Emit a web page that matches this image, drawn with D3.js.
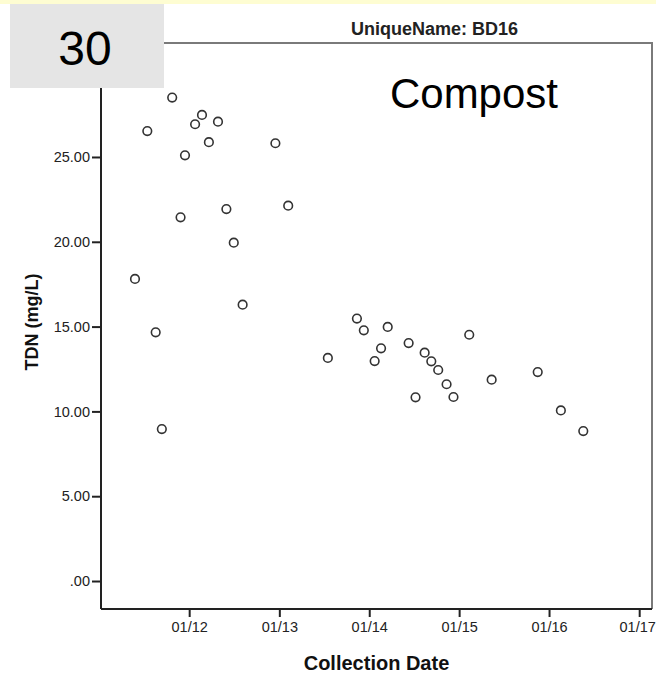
<!DOCTYPE html>
<html>
<head>
<meta charset="utf-8">
<script src="https://cdn.jsdelivr.net/npm/d3@7"></script>
<style>
  body { margin: 0; background: #fff; }
  svg text { font-family: "Liberation Sans", Arial, sans-serif; }
</style>
</head>
<body>
<svg id="chart" width="656" height="676"></svg>
<script>
// collection dates and TDN readings for BD16
const collectionDates = ["2011-10-24","2011-07-15","2012-02-22","2012-01-25","2012-04-27","2012-03-21","2012-12-16",
  "2011-12-15","2013-02-06","2011-11-27","2012-05-31","2012-06-30","2011-05-26","2012-08-05","2011-08-18","2011-09-12",
  "2013-11-12","2013-12-10","2014-03-17","2013-07-17","2014-02-18","2014-01-23","2014-06-10","2014-08-14","2014-09-10",
  "2014-10-08","2015-02-11","2014-11-11","2014-07-08","2014-12-09","2015-05-13","2015-11-16","2016-02-18","2016-05-19"];
const tdnValues = [28.50,26.53,27.48,26.93,27.08,25.87,25.81,25.10,22.13,21.44,21.93,19.95,17.81,16.29,14.66,8.96,
  15.47,14.78,14.98,13.15,13.72,12.97,14.03,13.46,12.95,12.44,14.52,11.60,10.83,10.85,11.87,12.32,10.06,8.84];

const yTicks = [0, 5, 10, 15, 20, 25];
const yTickLabels = [".00", "5.00", "10.00", "15.00", "20.00", "25.00"];
const xTickDates = ["2012-01-01","2013-01-01","2014-01-01","2015-01-01","2016-01-01","2017-01-01"];
const xTickLabels = ["01/12","01/13","01/14","01/15","01/16","01/17"];

const chartTitle = "UniqueName: BD16";
const slideNumber = "30";
const noteText = "Compost";

const parseDate = d3.timeParse("%Y-%m-%d");

const margin = {top: 43, right: 4, bottom: 67, left: 101};
const width = 656 - margin.left - margin.right;
const height = 676 - margin.top - margin.bottom;

const svg = d3.select("#chart");

// slide background strip
svg.append("rect")
    .attr("x", 0).attr("y", 0)
    .attr("width", 656).attr("height", 4)
    .attr("fill", "#fefdd2");

let g = svg.append("g")
    .attr("transform", "translate(" + margin.left + "," + margin.top + ")");

var xScale = d3.scaleTime()
    .domain([new Date(2011, 0, 8), new Date(2017, 1, 22)])
    .range([0, width]);

var yScale = d3.scaleLinear()
    .domain([-1.65, 31.72])
    .range([height, 0]);

// frame (top and right are grey)
g.append("path")
    .attr("d", "M0,0H" + width + "V" + height)
    .attr("fill", "none")
    .attr("stroke", "#7a7a7a")
    .attr("stroke-width", 2);

let xAxis = g.append("g")
    .attr("transform", "translate(0," + height + ")")
    .call(d3.axisBottom(xScale)
        .tickValues(xTickDates.map(parseDate))
        .tickFormat((d, i) => xTickLabels[i])
        .tickSize(8)
        .tickSizeOuter(0)
        .tickPadding(5));

let yAxis = g.append("g")
    .call(d3.axisLeft(yScale)
        .tickValues(yTicks)
        .tickFormat((d, i) => yTickLabels[i])
        .tickSize(9)
        .tickSizeOuter(0)
        .tickPadding(2));

[xAxis, yAxis].forEach(ax => {
    ax.select(".domain").attr("stroke", "#222").attr("stroke-width", 2);
    ax.selectAll(".tick line").attr("stroke", "#222").attr("stroke-width", 2);
    ax.selectAll(".tick text")
        .attr("fill", "#222")
        .style("font-size", "14.5px");
});

// last date label sits against the right edge
xAxis.selectAll(".tick text")
    .filter((d, i) => i === xTickLabels.length - 1)
    .attr("dx", -2);

// bottom axis line should run the full width
xAxis.select(".domain").attr("d", "M0,0H" + width);
yAxis.select(".domain").attr("d", "M0," + height + "V0");

g.selectAll("circle.pt")
    .data(collectionDates.map((d, i) => [parseDate(d), tdnValues[i]]))
    .enter()
    .append("circle")
        .attr("class", "pt")
        .attr("cx", d => xScale(d[0]))
        .attr("cy", d => yScale(d[1]))
        .attr("r", 4.3)
        .attr("fill", "none")
        .attr("stroke", "#333")
        .attr("stroke-width", 1.6);

// axis titles
svg.append("text")
    .attr("x", margin.left + width / 2)
    .attr("y", 670)
    .attr("text-anchor", "middle")
    .style("font-size", "20px")
    .style("font-weight", "bold")
    .attr("fill", "#111")
    .text("Collection Date");

svg.append("text")
    .attr("transform", "translate(38," + (margin.top + height / 2 - 4) + ")rotate(-90)")
    .attr("text-anchor", "middle")
    .style("font-size", "18px")
    .style("font-weight", "bold")
    .attr("fill", "#111")
    .text("TDN (mg/L)");

svg.append("text")
    .attr("x", 518)
    .attr("y", 35)
    .attr("text-anchor", "end")
    .style("font-size", "18px")
    .style("font-weight", "bold")
    .attr("fill", "#222")
    .text(chartTitle);

// overlay annotations
svg.append("text")
    .attr("x", 558)
    .attr("y", 108)
    .attr("text-anchor", "end")
    .style("font-size", "42px")
    .attr("fill", "#000")
    .text(noteText);

svg.append("rect")
    .attr("x", 10).attr("y", 4)
    .attr("width", 154).attr("height", 84)
    .attr("fill", "#e5e5e5");

svg.append("text")
    .attr("x", 85)
    .attr("y", 65)
    .attr("text-anchor", "middle")
    .style("font-size", "48px")
    .attr("fill", "#000")
    .text(slideNumber);
</script>
</body>
</html>
